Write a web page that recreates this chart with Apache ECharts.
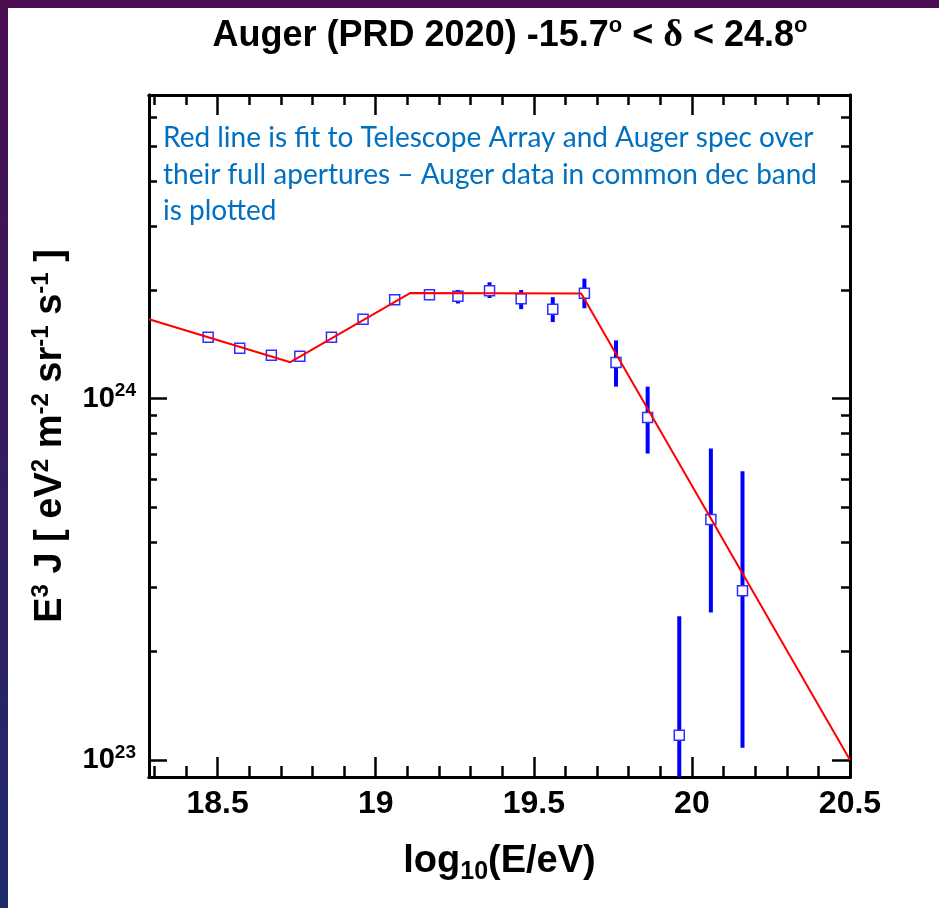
<!DOCTYPE html>
<html>
<head>
<meta charset="utf-8">
<title>Auger (PRD 2020) spectrum</title>
<script src="https://cdn.jsdelivr.net/npm/echarts@6/dist/echarts.min.js"></script>
<style>
  html, body { margin: 0; padding: 0; background: #fff; }
  #chart { width: 939px; height: 908px; }
</style>
</head>
<body>
<div id="chart"></div>
<script>
// log10(E/eV) of each Auger bin
var binsLgE = [18.47, 18.57, 18.67, 18.76, 18.86, 18.96, 19.06, 19.17, 19.26, 19.36, 19.46, 19.56, 19.66, 19.76, 19.86, 19.96, 20.06, 20.16];
// E^3 J [eV^2 m^-2 sr^-1 s^-1]
var fluxE3J = [1.48e24, 1.38e24, 1.32e24, 1.31e24, 1.48e24, 1.66e24, 1.88e24, 1.94e24, 1.92e24, 1.99e24, 1.89e24, 1.77e24, 1.96e24, 1.26e24, 8.87e23, 1.17e23, 4.63e23, 2.94e23];
// error bar ends (lower one of the 19.96 bin is off scale)
var errLow  = [1.45e24, 1.35e24, 1.29e24, 1.28e24, 1.45e24, 1.62e24, 1.84e24, 1.89e24, 1.835e24, 1.90e24, 1.77e24, 1.63e24, 1.78e24, 1.08e24, 7.05e23, 3e22, 2.56e23, 1.08e23];
var errHigh = [1.51e24, 1.41e24, 1.35e24, 1.34e24, 1.51e24, 1.70e24, 1.92e24, 1.99e24, 2.00e24, 2.10e24, 2.00e24, 1.91e24, 2.15e24, 1.45e24, 1.08e24, 2.50e23, 7.28e23, 6.30e23];

// red fit line (TA + Auger full aperture)
var fitLgE = [18.283, 18.73, 19.11, 19.65, 20.5];
var fitE3J = [1.66e24, 1.262e24, 1.962e24, 1.955e24, 1.0e23];

// axes
var xMin = 18.283, xMax = 20.5;
var yMin = 8.97e22, yMax = 6.93e24;
var xMajorTicks = [18.5, 19, 19.5, 20, 20.5];
var xMinorTicks = [18.3, 18.4, 18.6, 18.7, 18.8, 18.9, 19.1, 19.2, 19.3, 19.4, 19.6, 19.7, 19.8, 19.9, 20.1, 20.2, 20.3, 20.4];
var yMajorTicks = [1e23, 1e24];
var yMinorTicks = [2e23, 3e23, 4e23, 5e23, 6e23, 7e23, 8e23, 9e23, 2e24, 3e24, 4e24, 5e24, 6e24];

var boldFont = 'Liberation Sans';

var chart = echarts.init(document.getElementById('chart'));

function xAx(pos, ticks, len, withLabels) {
  return {
    type: 'value',
    position: pos,
    min: xMin,
    max: xMax,
    axisLine: { show: true, onZero: false, lineStyle: { color: '#000', width: 3 } },
    axisTick: { show: true, inside: true, length: len, customValues: ticks, lineStyle: { color: '#000', width: 2.5 } },
    axisLabel: withLabels ? {
      show: true, customValues: ticks, margin: 11,
      color: '#000', fontFamily: boldFont, fontWeight: 'bold', fontSize: 32,
      formatter: function (v) { return String(v); }
    } : { show: false },
    splitLine: { show: false }
  };
}

function yAx(pos, ticks, len, withLabels) {
  return {
    type: 'log',
    logBase: 10,
    position: pos,
    min: yMin,
    max: yMax,
    axisLine: { show: true, onZero: false, lineStyle: { color: '#000', width: 3 } },
    axisTick: { show: true, inside: true, length: len, customValues: ticks, lineStyle: { color: '#000', width: 2.5 } },
    axisLabel: withLabels ? {
      show: true, customValues: ticks, margin: 13,
      formatter: function (v) {
        return '{b|10}{s|' + Math.round(Math.log10(v)) + '}';
      },
      rich: {
        b: { color: '#000', fontFamily: boldFont, fontWeight: 'bold', fontSize: 29, lineHeight: 34 },
        s: { color: '#000', fontFamily: boldFont, fontWeight: 'bold', fontSize: 19, lineHeight: 19, verticalAlign: 'top' }
      }
    } : { show: false },
    splitLine: { show: false }
  };
}

var xAxes = [
  xAx('bottom', xMajorTicks, 20, true),
  xAx('bottom', xMinorTicks, 11, false),
  xAx('top', xMajorTicks, 20, false),
  xAx('top', xMinorTicks, 10, false)
];
xAxes[0].name = 'log{sub|10}(E/eV)';
xAxes[0].nameLocation = 'middle';
xAxes[0].nameGap = 62;
xAxes[0].nameTextStyle = {
  color: '#000', fontFamily: boldFont, fontWeight: 'bold', fontSize: 38, lineHeight: 46,
  rich: { sub: { color: '#000', fontFamily: boldFont, fontWeight: 'bold', fontSize: 25, lineHeight: 25, verticalAlign: 'bottom', padding: [10, 0, 0, 0] } }
};

var yAxes = [
  yAx('left', yMajorTicks, 18, true),
  yAx('left', yMinorTicks, 8, false),
  yAx('right', yMajorTicks, 18, false),
  yAx('right', yMinorTicks, 9, false)
];
yAxes[0].name = 'E{s|3} J [ eV{s|2} m{s|-2} sr{s|-1} s{s|-1} ]';
yAxes[0].nameLocation = 'middle';
yAxes[0].nameRotate = 90;
yAxes[0].nameGap = 60;
yAxes[0].nameTextStyle = {
  color: '#000', fontFamily: boldFont, fontWeight: 'bold', fontSize: 38, lineHeight: 42,
  rich: { s: { color: '#000', fontFamily: boldFont, fontWeight: 'bold', fontSize: 24, lineHeight: 22, verticalAlign: 'top' } }
};

var points = binsLgE.map(function (x, i) { return [x, fluxE3J[i]]; });
var bars = binsLgE.map(function (x, i) { return [x, errLow[i], errHigh[i]]; });
var fit = fitLgE.map(function (x, i) { return [x, fitE3J[i]]; });

var option = {
  animation: false,
  backgroundColor: '#fff',
  title: {
    text: '{t|Auger (PRD 2020) -15.7}{s|o}{t| < }{d|δ}{t| < 24.8}{s|o}',
    left: 505,
    top: 10,
    textAlign: 'center',
    textStyle: {
      rich: {
        t: { color: '#000', fontFamily: boldFont, fontWeight: 'bold', fontSize: 36, lineHeight: 42 },
        s: { color: '#000', fontFamily: boldFont, fontWeight: 'bold', fontSize: 22, lineHeight: 24, verticalAlign: 'top' },
        d: { color: '#000', fontFamily: 'Liberation Serif', fontSize: 38, lineHeight: 42 }
      }
    }
  },
  grid: {
    left: 149,
    right: 89,
    top: 95,
    bottom: 131,
    containLabel: false,
    outerBoundsMode: 'none'
  },
  xAxis: xAxes,
  yAxis: yAxes,
  graphic: [
    {
      type: 'rect', left: 0, top: 0, z: -10,
      shape: { width: 8, height: 908 },
      style: {
        fill: new echarts.graphic.LinearGradient(0, 0, 0, 1, [
          { offset: 0, color: '#4a0d52' },
          { offset: 1, color: '#1e2b6c' }
        ])
      }
    },
    {
      type: 'rect', left: 0, top: 0, z: -10,
      shape: { width: 939, height: 8 },
      style: { fill: '#4b0e53' }
    },
    {
      type: 'text', left: 163, top: 120, z: 10,
      style: {
        text: 'Red line is fit to Telescope Array and Auger spec over\ntheir full apertures \u2013 Auger data in common dec band\nis plotted',
        fill: '#0070c0',
        font: '28px Lato',
        lineHeight: 36.5
      }
    }
  ],
  series: [
    {
      type: 'custom',
      xAxisIndex: 0,
      yAxisIndex: 0,
      clip: true,
      z: 2,
      encode: { x: 0, y: [1, 2] },
      renderItem: function (params, api) {
        var p1 = api.coord([api.value(0), api.value(1)]);
        var p2 = api.coord([api.value(0), api.value(2)]);
        return {
          type: 'line',
          shape: { x1: p1[0], y1: p1[1], x2: p2[0], y2: p2[1] },
          style: { stroke: '#0000ff', lineWidth: 4 }
        };
      },
      data: bars
    },
    {
      type: 'scatter',
      xAxisIndex: 0,
      yAxisIndex: 0,
      z: 3,
      symbol: 'rect',
      symbolSize: 10,
      itemStyle: { color: '#fff', borderColor: '#2f2fff', borderWidth: 1.5, opacity: 1 },
      data: points
    },
    {
      type: 'line',
      xAxisIndex: 0,
      yAxisIndex: 0,
      z: 4,
      symbol: 'none',
      lineStyle: { color: '#ff0000', width: 2 },
      data: fit
    }
  ]
};

chart.setOption(option);
window.addEventListener('resize', function () { chart.resize(); });
</script>
</body>
</html>
